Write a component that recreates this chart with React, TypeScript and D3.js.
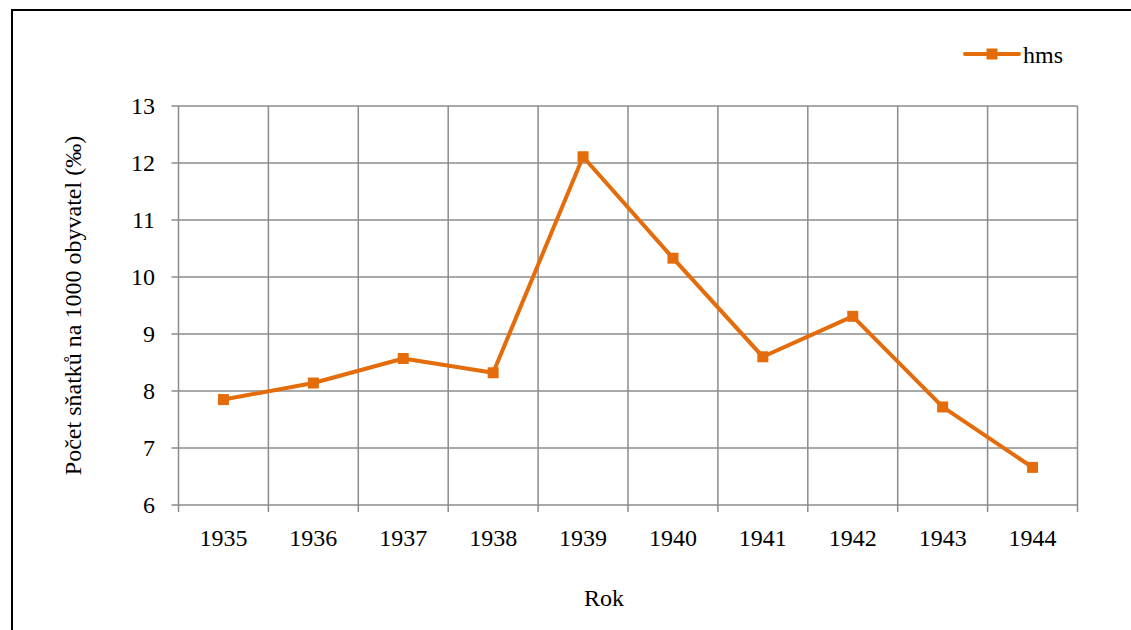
import React from "react";
import * as d3 from "d3";

const years = ["1935", "1936", "1937", "1938", "1939", "1940", "1941", "1942", "1943", "1944"];
const hms = [7.85, 8.14, 8.57, 8.32, 12.11, 10.33, 8.6, 9.31, 7.72, 6.66];
const yTicks = [6, 7, 8, 9, 10, 11, 12, 13];
const seriesName = "hms";
const yTitle = "Počet sňatků na 1000 obyvatel (‰)";
const xTitle = "Rok";

const W = 1131;
const H = 630;
const ORANGE = "#E46C0A";
const GRID = "#8C8C8C";
const FONT = '"Liberation Serif", Tinos, "Times New Roman", "Noto Serif", "DejaVu Serif", serif';
const txt = { fontFamily: FONT, fontSize: "24px" };

export default function App() {
  const x = d3.scaleBand<string>().domain(years).range([178.5, 1077.5]).padding(0);
  const y = d3.scaleLinear().domain([6, 13]).range([505, 106]);
  const left = x.range()[0];
  const right = x.range()[1];
  const boundaries = years.map((yr) => x(yr) as number).concat([right]);
  const cx = (yr: string) => (x(yr) as number) + x.bandwidth() / 2;
  const line = d3
    .line<number>()
    .x((_, i) => cx(years[i]))
    .y((d) => y(d));
  const ms = 11;

  return (
    <svg
      width={W}
      height={H}
      style={{ position: "absolute", left: 0, top: 0, display: "block", background: "#fff" }}
    >
      <rect x={0} y={0} width={W} height={H} fill="#fff" />
      <rect x={12} y={10} width={W + 50} height={H + 50} fill="none" stroke="#000" strokeWidth={2} />

      {yTicks.map((t) => (
        <line key={"h" + t} x1={left - 7} x2={right} y1={y(t)} y2={y(t)} stroke={GRID} strokeWidth={1.5} />
      ))}
      {boundaries.map((b, i) => (
        <line key={"v" + i} x1={b} x2={b} y1={y(13)} y2={y(6) + 7} stroke={GRID} strokeWidth={1.5} />
      ))}

      {yTicks.map((t) => (
        <text key={"yl" + t} x={155} y={y(t)} dy="0.35em" textAnchor="end" style={txt} fill="#000">
          {t}
        </text>
      ))}
      {years.map((yr) => (
        <text key={"xl" + yr} x={cx(yr)} y={546} textAnchor="middle" style={txt} fill="#000">
          {yr}
        </text>
      ))}

      <path d={line(hms) || ""} fill="none" stroke={ORANGE} strokeWidth={4} strokeLinejoin="round" />
      {hms.map((v, i) => (
        <rect key={"m" + i} x={cx(years[i]) - ms / 2} y={y(v) - ms / 2} width={ms} height={ms} fill={ORANGE} />
      ))}

      <text
        transform={`translate(81, ${(y(6) + y(13)) / 2}) rotate(-90)`}
        textAnchor="middle"
        style={txt}
        fill="#000"
      >
        {yTitle}
      </text>
      <text x={604} y={606} textAnchor="middle" style={txt} fill="#000">
        {xTitle}
      </text>

      <line x1={965} x2={1019} y1={54} y2={54} stroke={ORANGE} strokeWidth={4} strokeLinecap="round" />
      <rect x={992 - ms / 2} y={54 - ms / 2} width={ms} height={ms} fill={ORANGE} />
      <text x={1023} y={63} style={txt} fill="#000">
        {seriesName}
      </text>
    </svg>
  );
}
